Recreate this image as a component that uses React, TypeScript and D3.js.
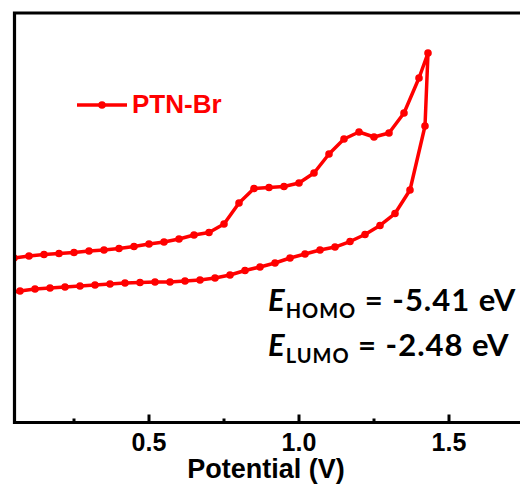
import React, { useEffect, useRef } from "react";
import * as d3 from "d3";

// forward scan (anodic), potential in V
const forwardV = [
  0.05, 0.1, 0.15, 0.2, 0.25, 0.3, 0.35, 0.4, 0.45, 0.5, 0.55, 0.6, 0.65, 0.7,
  0.75, 0.8, 0.85, 0.9, 0.95, 1.0, 1.05, 1.1, 1.15, 1.2, 1.25, 1.3, 1.35, 1.4,
  1.43,
];
// current, arbitrary units
const forwardI = [
  16.04, 16.23, 16.38, 16.48, 16.58, 16.72, 16.82, 16.97, 17.16, 17.41, 17.6,
  17.9, 18.29, 18.53, 19.36, 21.42, 22.84, 22.93, 23.03, 23.37, 24.35, 26.21,
  27.68, 28.36, 27.87, 28.26, 30.22, 33.64, 36.09,
];

// reverse scan
const reverseV = [
  1.42, 1.37, 1.32, 1.27, 1.22, 1.17, 1.12, 1.07, 1.02, 0.97, 0.92, 0.87, 0.82,
  0.77, 0.72, 0.67, 0.62, 0.57, 0.52, 0.47, 0.42, 0.37, 0.32, 0.27, 0.22, 0.17,
  0.12, 0.07, 0.02,
];
const reverseI = [
  28.95, 22.69, 20.39, 19.22, 18.34, 17.65, 17.11, 16.82, 16.43, 16.04, 15.55,
  15.16, 14.82, 14.38, 14.08, 13.89, 13.79, 13.69, 13.69, 13.64, 13.59, 13.5,
  13.4, 13.3, 13.2, 13.11, 13.01, 12.81, 12.57,
];

const majorTicks = [0.5, 1.0, 1.5];
const minorTicks = [0.25, 0.75, 1.25];

const App = () => {
  const ref = useRef<SVGSVGElement | null>(null);

  useEffect(() => {
    const width = 520;
    const height = 490;
    const left = 14.5;
    const top = 13;
    const bottom = 422.5;
    const red = "#ff0000";

    const svg = d3.select(ref.current);
    svg.selectAll("*").remove();
    svg.attr("width", width).attr("height", height);

    const x = d3.scaleLinear().domain([0.05, 1.75]).range([14, 524]);
    const y = d3.scaleLinear().domain([0, 40]).range([422, 13]);

    svg
      .append("defs")
      .append("clipPath")
      .attr("id", "plot-clip")
      .append("rect")
      .attr("x", left)
      .attr("y", top)
      .attr("width", width - left)
      .attr("height", bottom - top);

    // data: forward then reverse
    const pts: [number, number][] = forwardV
      .map((v, i) => [v, forwardI[i]] as [number, number])
      .concat(reverseV.map((v, i) => [v, reverseI[i]] as [number, number]));

    const line = d3
      .line<[number, number]>()
      .x((d) => x(d[0]))
      .y((d) => y(d[1]));

    const g = svg.append("g").attr("clip-path", "url(#plot-clip)");
    g.append("path")
      .attr("d", line(pts))
      .attr("fill", "none")
      .attr("stroke", red)
      .attr("stroke-width", 3.5)
      .attr("stroke-linejoin", "round");

    g.selectAll("circle")
      .data(pts)
      .enter()
      .append("circle")
      .attr("cx", (d) => x(d[0]))
      .attr("cy", (d) => y(d[1]))
      .attr("r", 3.8)
      .attr("fill", red);

    // frame: left, top, bottom (right side out of view)
    svg
      .append("path")
      .attr("d", `M${width + 5},${top}H${left}V${bottom}H${width + 5}`)
      .attr("fill", "none")
      .attr("stroke", "#000")
      .attr("stroke-width", 3.2);

    // ticks pointing in
    majorTicks.forEach((t) => {
      svg
        .append("line")
        .attr("x1", x(t))
        .attr("x2", x(t))
        .attr("y1", bottom)
        .attr("y2", bottom - 8)
        .attr("stroke", "#000")
        .attr("stroke-width", 3);
      svg
        .append("text")
        .attr("x", x(t))
        .attr("y", 451)
        .attr("text-anchor", "middle")
        .attr("font-family", "Liberation Sans, Arial, sans-serif")
        .attr("font-weight", "bold")
        .attr("font-size", 25)
        .text(d3.format(".1f")(t));
    });
    minorTicks.forEach((t) => {
      svg
        .append("line")
        .attr("x1", x(t))
        .attr("x2", x(t))
        .attr("y1", bottom)
        .attr("y2", bottom - 4)
        .attr("stroke", "#000")
        .attr("stroke-width", 3);
    });

    svg
      .append("text")
      .attr("x", 266)
      .attr("y", 478)
      .attr("text-anchor", "middle")
      .attr("font-family", "Liberation Sans, Arial, sans-serif")
      .attr("font-weight", "bold")
      .attr("font-size", 27)
      .text("Potential (V)");

    // legend
    const leg = svg.append("g");
    leg
      .append("line")
      .attr("x1", 77)
      .attr("x2", 127)
      .attr("y1", 105)
      .attr("y2", 105)
      .attr("stroke", red)
      .attr("stroke-width", 3.5);
    leg
      .append("circle")
      .attr("cx", 102)
      .attr("cy", 105)
      .attr("r", 3.8)
      .attr("fill", red);
    leg
      .append("text")
      .attr("x", 132)
      .attr("y", 113)
      .attr("fill", red)
      .attr("font-family", "Liberation Sans, Arial, sans-serif")
      .attr("font-weight", "bold")
      .attr("font-size", 26)
      .text("PTN-Br");

    // energy levels
    const levels = [
      { sub: "HOMO", val: " = -5.41 eV", base: 311 },
      { sub: "LUMO", val: " = -2.48 eV", base: 356 },
    ];
    levels.forEach((l) => {
      const t = svg
        .append("text")
        .attr("x", 268)
        .attr("y", l.base)
        .attr("font-family", "Lato, 'Open Sans', sans-serif")
        .attr("font-weight", "bold")
        .attr("letter-spacing", 1)
        .attr("font-size", 31);
      t.append("tspan").attr("font-style", "italic").text("E");
      t.append("tspan").attr("font-size", 20).attr("dy", 7).text(l.sub);
      t.append("tspan").attr("dy", -7).text(l.val);
    });
  }, []);

  return (
    <svg
      ref={ref}
      style={{ position: "absolute", left: 0, top: 0, background: "#fff" }}
    />
  );
};

export default App;
